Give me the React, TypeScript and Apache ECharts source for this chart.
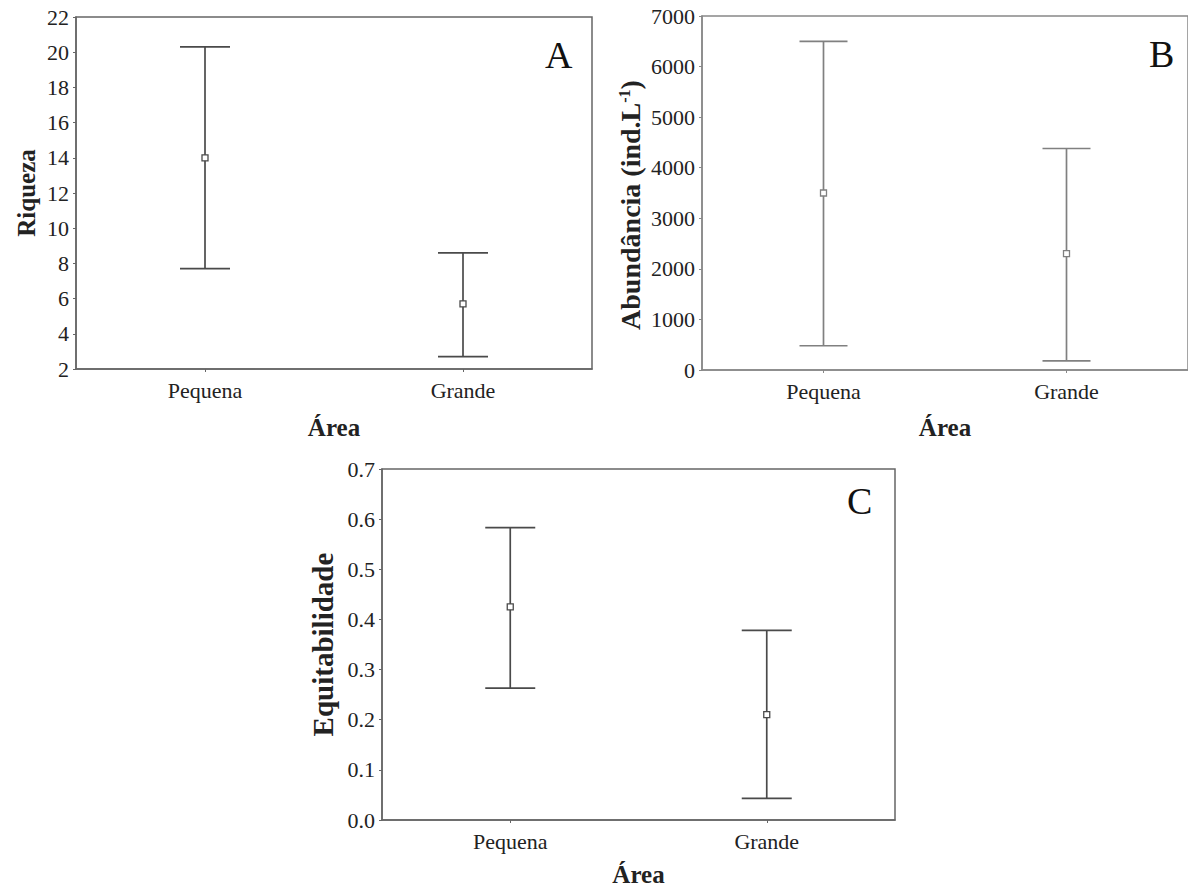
import React, { useEffect, useRef } from "react";
import * as echarts from "echarts";

const categories = ["Pequena", "Grande"];

const riquezaMean = [14.0, 5.7];
const riquezaLow = [7.7, 2.7];
const riquezaHigh = [20.3, 8.6];

const abundMean = [3500, 2300];
const abundLow = [480, 180];
const abundHigh = [6500, 4380];

const equitMean = [0.425, 0.21];
const equitLow = [0.263, 0.043];
const equitHigh = [0.583, 0.378];

const FONT = "Liberation Serif";
const TICK_FS = 22;

function errorSeries(idx: number, low: number[], high: number[], color: string, hw: number) {
  return {
    type: "custom",
    xAxisIndex: idx,
    yAxisIndex: idx,
    silent: true,
    data: categories.map((_, i) => [i, low[i], high[i]]),
    encode: { x: 0, y: [1, 2] },
    renderItem: (params: any, api: any) => {
      const x = api.value(0);
      const lo = api.coord([x, api.value(1)]);
      const hi = api.coord([x, api.value(2)]);
      const style = { stroke: color, lineWidth: 1.7 };
      return {
        type: "group",
        children: [
          { type: "line", shape: { x1: lo[0], y1: lo[1], x2: hi[0], y2: hi[1] }, style },
          { type: "line", shape: { x1: lo[0] - hw, y1: lo[1], x2: lo[0] + hw, y2: lo[1] }, style },
          { type: "line", shape: { x1: hi[0] - hw, y1: hi[1], x2: hi[0] + hw, y2: hi[1] }, style },
        ],
      };
    },
  };
}

function meanSeries(idx: number, means: number[], color: string) {
  return {
    type: "scatter",
    xAxisIndex: idx,
    yAxisIndex: idx,
    silent: true,
    z: 5,
    symbol: "rect",
    symbolSize: 6,
    itemStyle: { color: "#ffffff", borderColor: color, borderWidth: 1.3, opacity: 1 },
    data: means,
  };
}

function xAxisFor(idx: number, color: string, gap: number) {
  return {
    type: "category",
    gridIndex: idx,
    data: categories,
    boundaryGap: true,
    axisLine: { show: true, lineStyle: { color, width: 1.5 } },
    axisTick: { show: true, alignWithLabel: true, length: 3, lineStyle: { color } },
    axisLabel: { fontFamily: FONT, fontSize: TICK_FS, color: "#222", margin: 10 },
    name: "Área",
    nameLocation: "middle",
    nameGap: gap,
    nameTextStyle: { fontFamily: FONT, fontSize: 25, fontWeight: "bold", color: "#222" },
    splitLine: { show: false },
  };
}

export default function App() {
  const ref = useRef<HTMLDivElement>(null);
  useEffect(() => {
    if (!ref.current) return;
    const chart = echarts.init(ref.current, undefined, { renderer: "svg" });
    const cA = "#4a4a4a";
    const cB = "#808080";
    const cC = "#4a4a4a";
    const yBase = (idx: number, color: string) => ({
      type: "value",
      gridIndex: idx,
      axisLine: { show: true, lineStyle: { color, width: 1.5 } },
      axisTick: { show: true, length: 3, lineStyle: { color } },
      axisLabel: { fontFamily: FONT, fontSize: TICK_FS, color: "#222", margin: 7, formatter: (v: number) => String(v) },
      splitLine: { show: false },
      nameLocation: "middle",
    });
    chart.setOption({
      animation: false,
      backgroundColor: "#ffffff",
      textStyle: { fontFamily: FONT },
      grid: [
        { left: 76, top: 17, width: 516, height: 352, show: true, borderColor: "#666", borderWidth: 1.5, backgroundColor: "transparent" },
        { left: 702, top: 16, width: 492, height: 354, show: true, borderColor: "#888", borderWidth: 1.5, backgroundColor: "transparent" },
        { left: 382, top: 469, width: 513, height: 352, show: true, borderColor: "#666", borderWidth: 1.5, backgroundColor: "transparent" },
      ],
      xAxis: [xAxisFor(0, "#666", 46), xAxisFor(1, "#888", 45), xAxisFor(2, "#666", 42)],
      yAxis: [
        {
          ...yBase(0, "#666"),
          min: 2,
          max: 22,
          interval: 2,
          name: "Riqueza",
          nameGap: 37,
          nameTextStyle: { fontFamily: FONT, fontSize: 25, fontWeight: "bold", color: "#222" },
        },
        {
          ...yBase(1, "#888"),
          min: 0,
          max: 7000,
          interval: 1000,
          name: "{b|Abundância (ind.L}{s|-1}{b|)}",
          nameGap: 57,
          nameTextStyle: {
            fontFamily: FONT,
            color: "#222",
            padding: [0, 24, 0, 0],
            rich: {
              b: { fontFamily: FONT, fontSize: 28, fontWeight: "bold", color: "#222" },
              s: { fontFamily: FONT, fontSize: 16, fontWeight: "bold", color: "#222", verticalAlign: "top", padding: [0, 0, 13, 0] },
            },
          },
        },
        {
          ...yBase(2, "#666"),
          min: 0,
          max: 0.7,
          interval: 0.1,
          name: "Equitabilidade",
          nameGap: 45,
          nameTextStyle: { fontFamily: FONT, fontSize: 29, fontWeight: "bold", color: "#222" },
          axisLabel: { fontFamily: FONT, fontSize: TICK_FS, color: "#222", margin: 7, formatter: (v: number) => v.toFixed(1) },
        },
      ],
      graphic: [
        { type: "text", left: 545, top: 36, style: { text: "A", fontFamily: FONT, fontSize: 38, fill: "#111" } },
        { type: "text", left: 1149, top: 35, style: { text: "B", fontFamily: FONT, fontSize: 38, fill: "#111" } },
        { type: "text", left: 847, top: 482, style: { text: "C", fontFamily: FONT, fontSize: 38, fill: "#111" } },
      ],
      series: [
        errorSeries(0, riquezaLow, riquezaHigh, cA, 25),
        meanSeries(0, riquezaMean, cA),
        errorSeries(1, abundLow, abundHigh, cB, 24),
        meanSeries(1, abundMean, cB),
        errorSeries(2, equitLow, equitHigh, cC, 25),
        meanSeries(2, equitMean, cC),
      ],
    });
    return () => chart.dispose();
  }, []);
  return <div ref={ref} style={{ position: "fixed", left: 0, top: 0, width: 1188, height: 888 }} />;
}
